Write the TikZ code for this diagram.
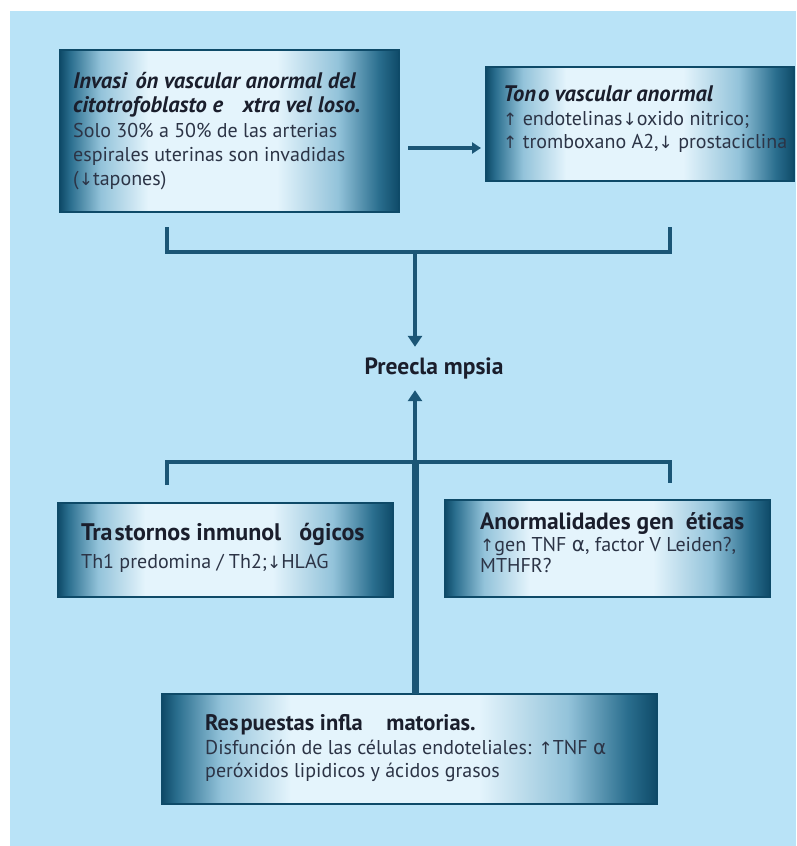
\documentclass[tikz,border=0pt]{standalone}
\usepackage{fontspec}
\setmainfont{PT Sans}
\newfontfamily\symfont{DejaVu Sans}
\usetikzlibrary{arrows.meta,calc}
\definecolor{bgc}{HTML}{B9E3F7}
\definecolor{dk}{HTML}{0E4A68}
\definecolor{dkb}{HTML}{2A6E8E}
\definecolor{md}{HTML}{93C3DA}
\definecolor{lt}{HTML}{E4F4FC}
\definecolor{lnc}{HTML}{1B5676}
\definecolor{ttlc}{HTML}{1A1E2C}
\definecolor{bdyc}{HTML}{2C3446}
\pgfdeclarehorizontalshading{boxshade}{100bp}{color(0bp)=(dk); color(25bp)=(dk); color(26.5bp)=(dkb); color(31bp)=(md); color(38bp)=(lt); color(57bp)=(lt); color(66bp)=(md); color(72bp)=(dkb); color(75bp)=(dk); color(100bp)=(dk)}
\newcommand\uarr{{\symfont\fontsize{17}{20}\selectfont ↑}}
\newcommand\darr{{\symfont\fontsize{17}{20}\selectfont ↓}}
\newcommand\alfa{{\symfont α}}
\tikzset{
  box/.style={draw=dk, line width=1.3pt, shading=boxshade, anchor=north west, inner sep=0pt, outer sep=0pt},
  conn/.style={draw=lnc, line width=4.5pt},
  arr/.style={conn, -{Triangle[width=14pt,length=11pt]}},
  ttl/.style={anchor=base west, inner sep=0pt, text=ttlc, font=\fontsize{22}{26}\selectfont\bfseries},
  ttli/.style={ttl, font=\fontsize{22.5}{26}\selectfont\bfseries\itshape},
  bd/.style={anchor=base west, inner sep=0pt, text=bdyc, font=\fontsize{20}{24}\selectfont},
}
\begin{document}
\begin{tikzpicture}[x=1pt,y=-1pt]
\useasboundingbox (0,0) rectangle (796,846);
\fill[white] (0,0) rectangle (796,846);
\fill[bgc] (10,11) rectangle (796,846);

% boxes
\node[box, minimum width=339pt, minimum height=162pt] (b1) at (60,50) {};
\node[box, minimum width=308pt, minimum height=114pt] (b2) at (486,67) {};
\node[box, minimum width=335pt, minimum height=94pt] (b3) at (58,503) {};
\node[box, minimum width=325pt, minimum height=97pt] (b4) at (445,500) {};
\node[box, minimum width=495pt, minimum height=110pt] (b5) at (162,694) {};

% box 1 text
\node[ttli] (t11) at (73,88) {Invasi\hspace{3pt} ón vascular anormal del};
\node[ttli] (t12) at (73,112) {citotrofoblasto e\hspace{14pt} xtra vel loso.};
\node[bd] (t13) at (73,137) {Solo 30\% a 50\% de las arterias};
\node[bd] (t14) at (73,161) {espirales uterinas son invadidas};
\node[bd] (t15) at (73,185) {(\darr tapones)};

% box 2 text
\node[ttli] (t21) at (503,101) {Ton\kern2pt o vascular anormal};
\node[bd] (t22) at (503,125) {\uarr\ endotelinas\darr oxido nitrico;};
\node[bd] (t23) at (503,148) {\uarr\ tromboxano A2,\darr\ prostaciclina};

% box 3 text
\node[ttl, font=\fontsize{24}{28}\selectfont\bfseries] (t31) at (81,540) {Tra\kern2pt stornos inmunol\hspace{12pt} ógicos};
\node[bd] (t32) at (81,568) {Th1 predomina / Th2;\darr HLAG};

% box 4 text
\node[ttl, font=\fontsize{23.5}{26}\selectfont\bfseries] (t41) at (480,529) {Anormalidades gen\hspace{6pt} éticas};
\node[bd] (t42) at (480,551) {\uarr gen TNF \alfa, factor V Leiden?,};
\node[bd] (t43) at (480,572) {MTHFR?};

% box 5 text
\node[ttl, font=\fontsize{22.5}{26}\selectfont\bfseries] (t51) at (205,730) {Res\kern2pt puestas infla\hspace{18pt} matorias.};
\node[bd] (t52) at (205,754) {Disfunción de las células endoteliales: \uarr TNF \alfa};
\node[bd] (t53) at (205,777) {peróxidos lipidicos y ácidos grasos};

% center label
\node[anchor=base, inner xsep=0pt, inner ysep=11pt, text height=16pt, text depth=5pt, text=ttlc, font=\fontsize{23.5}{26}\selectfont\bfseries] (pre) at (434,374) {Preecla mpsia};

% connectors
\coordinate (ay) at (0,148);
\draw[conn, line width=4pt, -{Triangle[width=11pt,length=9pt]}] ($(b1.east |- ay)+(9,0)$) -- ($(b2.west |- ay)+(-5,0)$);

\coordinate (u1) at (167,227);
\coordinate (u2) at (670,227);
\coordinate (uc) at (415,252);
\draw[conn] (u1) |- (uc) -| (u2);
\draw[arr] (uc) -- (pre.north -| uc);

\coordinate (l1) at (167,485);
\coordinate (l2) at (670,483);
\coordinate (lc) at (415,462);
\draw[conn] (l1) |- (lc) -| (l2);
\draw[conn, line width=7pt] (b5.north -| uc) -- (lc);
\draw[arr] (lc) -- (pre.south -| uc);
\end{tikzpicture}
\end{document}
